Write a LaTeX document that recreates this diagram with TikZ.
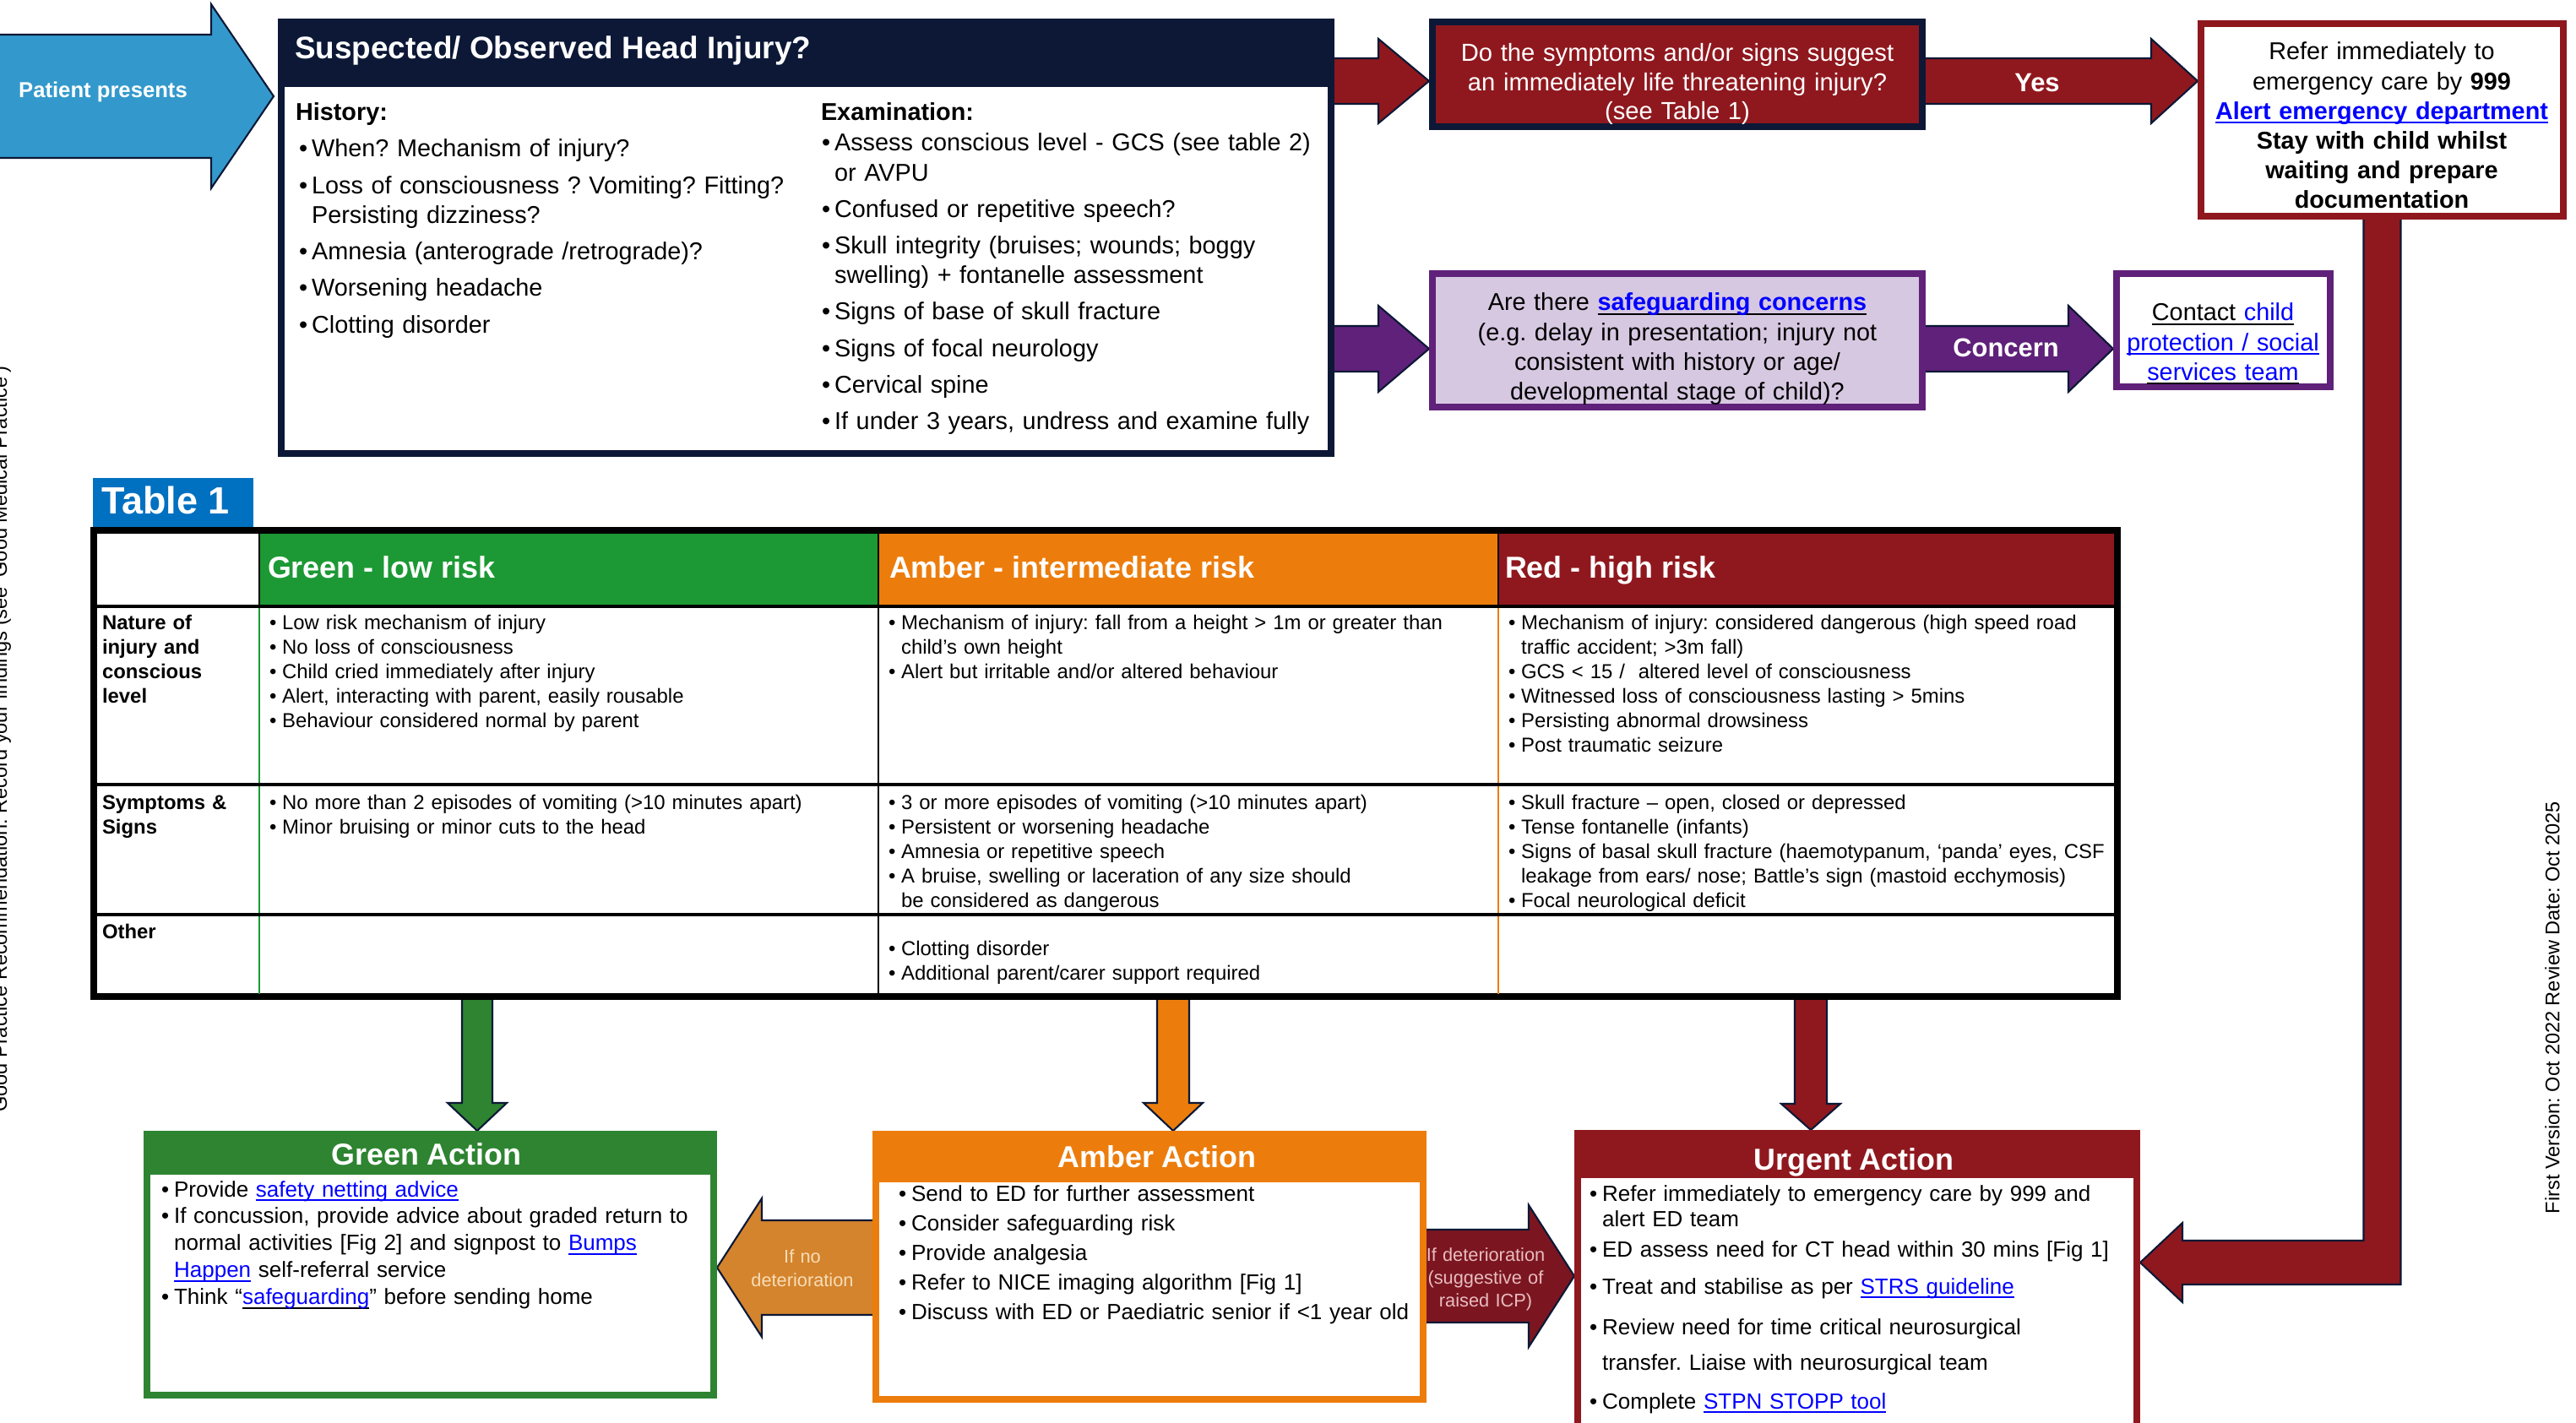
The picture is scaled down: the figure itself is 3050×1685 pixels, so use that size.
\documentclass[tikz,border=0pt]{standalone}
\usepackage{fontspec}
\setmainfont{Liberation Sans}
\usetikzlibrary{calc,backgrounds}
\frenchspacing

\definecolor{navy}{HTML}{0C1836}
\definecolor{skyblue}{HTML}{3399CC}
\definecolor{darkred}{HTML}{8F181E}
\definecolor{plum}{HTML}{60217A}
\definecolor{lavender}{HTML}{D7C8E2}
\definecolor{tabblue}{HTML}{0070C0}
\definecolor{riskgreen}{HTML}{1C9934}
\definecolor{actgreen}{HTML}{2E8431}
\definecolor{amber}{HTML}{EC7D0C}
\definecolor{nodet}{HTML}{D4842C}
\definecolor{det}{HTML}{7B1620}
\definecolor{nodettext}{HTML}{F8DDB8}
\definecolor{dettext}{HTML}{E9BCC0}
\definecolor{link}{HTML}{0000FF}

\newlength{\bw}
\setlength{\bw}{4.3pt}
\newsavebox{\ulbox}
\newcommand{\uln}[1]{\leavevmode\sbox{\ulbox}{#1}\rlap{\rule[-1.3pt]{\wd\ulbox}{0.45pt}}\usebox{\ulbox}}
\newcommand{\itm}[1]{\hangindent=\bw\hangafter=1\makebox[\bw][l]{\textbullet}#1\par}
\newcommand{\lnk}[1]{\textcolor{link}{\uln{#1}}}
\newcommand{\lnkk}[1]{\uln{\textcolor{link}{#1}}}
\newcommand{\fs}[2]{\fontsize{#1}{#2}\selectfont}
\newcommand{\harrow}[6]{\filldraw [#1] ($(#2)+(0,#4)$) -- ($(#3)+({-1*(#6)},#4)$) -- ($(#3)+({-1*(#6)},#5)$) -- (#3) -- ($(#3)+({-1*(#6)},-#5)$) -- ($(#3)+({-1*(#6)},-#4)$) -- ($(#2)+(0,-#4)$) -- cycle;}
\newcommand{\varrow}[6]{\filldraw [#1] ($(#2)+(-#4,0)$) -- ($(#3)+(-#4,#6)$) -- ($(#3)+(-#5,#6)$) -- (#3) -- ($(#3)+(#5,#6)$) -- ($(#3)+(#4,#6)$) -- ($(#2)+(#4,0)$) -- cycle;}

\begin{document}
\begin{tikzpicture}[x=0.1mm, y=0.1mm]
\tikzstyle{every node}+=[inner sep=0pt, outer sep=0pt]
\tikzstyle{box}=[draw, line width=0.8mm, anchor=north west]
\tikzstyle{blockarrow}=[draw=navy, line width=0.6pt, line join=miter]
\tikzstyle{listtext}=[anchor=base west, text width=9cm, align=left]
\tikzstyle{boxtext}=[anchor=base, text width=6cm, align=center]
\tikzstyle{cell}=[listtext, font=\fs{6.8}{8.2}]
\tikzstyle{rowlabel}=[listtext, font=\bfseries\fs{6.8}{8.2}]
\tikzstyle{heading}=[anchor=base west, text=white, font=\bfseries\fs{10.2}{12}]
\tikzstyle{arrowlabel}=[anchor=base, text=white, font=\bfseries\fs{8.8}{10}]
\tikzstyle{acttitle}=[anchor=base, text=white, font=\bfseries\fs{10.2}{12}]
\tikzstyle{acttext}=[listtext, font=\fs{7.4}{8.8}]
\tikzstyle{faint}=[anchor=base, text width=2cm, align=center, font=\fs{6.2}{8}]

\useasboundingbox (0,0) rectangle (3050,-1685);
\clip (0,0) rectangle (3050,-1685);

\node [box, draw=navy, fill=white, minimum width=12.43cm, minimum height=5.11cm] (susp) at (333,-26) {};
\fill [navy] (susp.north west) rectangle ($(susp.north east)+(0,-77)$);
\node [anchor=base west, text=white, font=\bfseries\fs{10.5}{12}] (susptitle) at (349,-70) {Suspected/ Observed Head Injury?};
\node [anchor=base west, font=\bfseries\fs{8.2}{10}] (history) at (350,-143) {History:};
\node [anchor=base west, font=\bfseries\fs{8.2}{10}] (exam) at (972,-143) {Examination:};
\node [listtext, font=\fs{8.2}{10}] (histlist) at (354,-186) {\setlength{\parskip}{2.3pt}%
\itm{When? Mechanism of injury?}
\itm{Loss of consciousness ? Vomiting? Fitting?\newline Persisting dizziness?}
\itm{Amnesia (anterograde /retrograde)?}
\itm{Worsening headache}
\itm{Clotting disorder}};
\node [listtext, font=\fs{8.2}{10}] (examlist) at (973,-179) {\setlength{\parskip}{2.3pt}%
\itm{Assess conscious level - GCS (see table 2)\newline or AVPU}
\itm{Confused or repetitive speech?}
\itm{Skull integrity (bruises; wounds; boggy\newline swelling) + fontanelle assessment}
\itm{Signs of base of skull fracture}
\itm{Signs of focal neurology}
\itm{Cervical spine}
\itm{If under 3 years, undress and examine fully}};

\node [box, draw=navy, fill=darkred, minimum width=5.8cm, minimum height=1.24cm] (risk) at (1696,-26) {};
\node [boxtext, text=white, font=\fs{8.3}{9.7}] (risktext) at (1986,-73) {Do the symptoms and/or signs suggest\\an immediately life threatening injury?\\(see Table 1)};

\node [box, draw=darkred, fill=white, minimum width=4.29cm, minimum height=2.28cm] (refer) at (2606,-28) {};
\node [boxtext, text width=4.2cm, font=\fs{8.2}{10}] (refertext) at (2820,-71) {Refer immediately to\\emergency care by \textbf{999}\\\textbf{\lnk{Alert emergency department}}\\\textbf{Stay with child whilst}\\\textbf{waiting and prepare}\\\textbf{documentation}};

\node [box, draw=plum, fill=lavender, minimum width=5.8cm, minimum height=1.58cm] (safe) at (1696,-324) {};
\node [boxtext, font=\fs{8.2}{10}] (safetext) at (1986,-368) {Are there \textbf{\lnkk{safeguarding concerns}}\\(e.g. delay in presentation; injury not\\consistent with history or age/\\developmental stage of child)?};

\node [box, draw=plum, fill=white, minimum width=2.53cm, minimum height=1.34cm] (contact) at (2506,-324) {};
\node [boxtext, text width=3.2cm, font=\fs{8.2}{10}] (contacttext) at (2632,-380) {\uln{Contact \textcolor{link}{child}}\\\lnk{protection / social}\\\lnkk{services team}};

\node [arrowlabel] (yes) at (2412,-109) {Yes};
\node [arrowlabel] (concern) at (2375,-423) {Concern};
\node [anchor=base, text=white, font=\bfseries\fs{7.3}{9}] (patient) at (122,-116) {Patient presents};

\node [fill=tabblue, anchor=north west, minimum width=1.9cm, minimum height=0.58cm] (tablabel) at (110,-566) {};
\node [anchor=base west, text=white, font=\bfseries\fs{12.8}{14}] (tabletitle) at (120,-609) {Table 1};

\node [box, draw=black, fill=white, minimum width=23.96cm, minimum height=5.52cm] (risktable) at (111,-628) {};
\fill [riskgreen] (307,-632) rectangle (1040,-718);
\fill [amber] (1040,-632) rectangle (1774,-718);
\fill [darkred] (1774,-632) rectangle (2503,-718);
\draw [riskgreen, line width=0.5pt] (307,-718) -- (307,-1177);
\draw [amber, line width=0.5pt] (1774,-718) -- (1774,-1177);
\draw [line width=0.8pt] (1040,-632) -- (1040,-1177) (307,-632) -- (307,-718) (1774,-632) -- (1774,-718);
\foreach \y in {718,929,1083}
  \draw [line width=0.9pt] (114,-\y) -- (2503,-\y);

\node [heading] (greenhead) at (317,-685) {Green - low risk};
\node [heading] (amberhead) at (1053,-685) {Amber - intermediate risk};
\node [heading] (redhead) at (1782,-685) {Red - high risk};

\node [rowlabel] (nature) at (121,-746) {Nature of\\injury and\\conscious\\level};
\node [rowlabel] (symptoms) at (121,-959) {Symptoms \&\\Signs};
\node [rowlabel] (other) at (121,-1112) {Other};

\node [cell] (green1) at (319,-746) {%
\itm{Low risk mechanism of injury}
\itm{No loss of consciousness}
\itm{Child cried immediately after injury}
\itm{Alert, interacting with parent, easily rousable}
\itm{Behaviour considered normal by parent}};
\node [cell] (amber1) at (1052,-746) {%
\itm{Mechanism of injury: fall from a height > 1m or greater than\newline child’s own height}
\itm{Alert but irritable and/or altered behaviour}};
\node [cell] (red1) at (1786,-746) {%
\itm{Mechanism of injury: considered dangerous (high speed road\newline traffic accident; >3m fall)}
\itm{GCS < 15 /\ \ altered level of consciousness}
\itm{Witnessed loss of consciousness lasting > 5mins}
\itm{Persisting abnormal drowsiness}
\itm{Post traumatic seizure}};
\node [cell] (green2) at (319,-959) {%
\itm{No more than 2 episodes of vomiting (>10 minutes apart)}
\itm{Minor bruising or minor cuts to the head}};
\node [cell] (amber2) at (1052,-959) {%
\itm{3 or more episodes of vomiting (>10 minutes apart)}
\itm{Persistent or worsening headache}
\itm{Amnesia or repetitive speech}
\itm{A bruise, swelling or laceration of any size should\newline be considered as dangerous}};
\node [cell] (red2) at (1786,-959) {%
\itm{Skull fracture – open, closed or depressed}
\itm{Tense fontanelle (infants)}
\itm{Signs of basal skull fracture (haemotypanum, ‘panda’ eyes, CSF\newline leakage from ears/ nose; Battle’s sign (mastoid ecchymosis)}
\itm{Focal neurological deficit}};
\node [cell] (amber3) at (1052,-1132) {%
\itm{Clotting disorder}
\itm{Additional parent/carer support required}};

\node [box, draw=actgreen, fill=white, minimum width=6.71cm, minimum height=3.09cm] (gact) at (174,-1343) {};
\fill [actgreen] (gact.north west) rectangle ($(gact.north east)+(0,-48)$);
\node [acttitle] (gacttitle) at (505,-1380) {Green Action};
\node [acttext, font=\fs{7.4}{9.1}] (gactlist) at (191,-1417) {%
\itm{Provide \lnk{safety netting advice}}
\itm{If concussion, provide advice about graded return to\newline normal activities [Fig 2] and signpost to \lnk{Bumps}\newline \lnk{Happen} self-referral service}
\itm{Think “\lnkk{safeguarding}” before sending home}};

\node [box, draw=amber, fill=white, minimum width=6.48cm, minimum height=3.14cm] (aact) at (1037,-1343) {};
\fill [amber] (aact.north west) rectangle ($(aact.north east)+(0,-57)$);
\node [acttitle] (aacttitle) at (1370,-1382) {Amber Action};
\node [acttext, font=\fs{7.4}{10}] (aactlist) at (1064,-1422) {%
\itm{Send to ED for further assessment}
\itm{Consider safeguarding risk}
\itm{Provide analgesia}
\itm{Refer to NICE imaging algorithm [Fig 1]}
\itm{Discuss with ED or Paediatric senior if <1 year old}};

\node [box, draw=darkred, fill=white, minimum width=6.62cm, minimum height=3.78cm] (uact) at (1868,-1342) {};
\fill [darkred] (uact.north west) rectangle ($(uact.north east)+(0,-53)$);
\node [acttitle] (uacttitle) at (2195,-1385) {Urgent Action};
\node [acttext] (urgent1) at (1882,-1422) {\itm{Refer immediately to emergency care by 999 and\newline alert ED team}};
\node [acttext] (urgent2) at (1882,-1488) {\itm{ED assess need for CT head within 30 mins [Fig 1]}};
\node [acttext] (urgent3) at (1882,-1532) {\itm{Treat and stabilise as per \lnk{STRS guideline}}};
\node [acttext, font=\fs{7.4}{12}] (urgent4) at (1882,-1580) {\itm{Review need for time critical neurosurgical\newline transfer. Liaise with neurosurgical team}};
\node [acttext] (urgent5) at (1882,-1668) {\itm{Complete \lnk{STPN STOPP tool}}};

\node [faint, text=nodettext] (nodetlabel) at (950,-1495) {If no\\deterioration};
\node [faint, text=dettext, font=\fs{6.2}{7.7}] (detlabel) at (1759,-1493) {If deterioration\\(suggestive of\\raised ICP)};

\node [rotate=90, font=\fs{6.7}{8}] (version) at (3022,-1193) {First Version: Oct 2022 Review Date: Oct 2025};
\node [rotate=90, anchor=base, font=\fs{6.7}{8}] (practice) at (8,-875) {Good Practice Recommendation: Record your findings (see ‘Good Medical Practice’)};

\begin{pgfonlayer}{background}
\fill [white] (0,0) rectangle (3050,-1685);
\coordinate (ptail) at (-10,-114);
\coordinate (ptip) at ($(susp.west |- ptail)+(-9,0)$);
\harrow{blockarrow, fill=skyblue}{ptail}{ptip}{73}{109}{74}
\coordinate (q0) at (susp.east |- 0,-96);
\coordinate (q1) at ($(risk.west |- q0)+(-4,0)$);
\harrow{blockarrow, fill=darkred}{q0}{q1}{27}{50}{60}
\coordinate (y0) at (risk.east |- q0);
\coordinate (y1) at ($(refer.west |- q0)+(-4,0)$);
\harrow{blockarrow, fill=darkred}{y0}{y1}{27}{50}{55}
\coordinate (s0) at (susp.east |- 0,-413);
\coordinate (s1) at ($(safe.west |- s0)+(-4,0)$);
\harrow{blockarrow, fill=plum}{s0}{s1}{27}{51}{60}
\coordinate (c0) at (safe.east |- s0);
\coordinate (c1) at ($(contact.west |- s0)+(-4,0)$);
\harrow{blockarrow, fill=plum}{c0}{c1}{27}{51}{53}
\coordinate (gd0) at (565,-1180);
\coordinate (gd1) at ($(gd0 |- gact.north)+(0,4)$);
\varrow{blockarrow, fill=actgreen}{gd0}{gd1}{18}{35}{33}
\coordinate (ad0) at (1389,-1180);
\coordinate (ad1) at ($(ad0 |- aact.north)+(0,4)$);
\varrow{blockarrow, fill=amber}{ad0}{ad1}{19}{35}{33}
\coordinate (rd0) at (2144,-1180);
\coordinate (rd1) at ($(rd0 |- uact.north)+(0,4)$);
\varrow{blockarrow, fill=darkred}{rd0}{rd1}{19}{35}{31}
\coordinate (n0) at (aact.west |- 0,-1501);
\coordinate (n1) at ($(gact.east |- n0)+(4,0)$);
\harrow{blockarrow, fill=nodet}{n0}{n1}{56}{82}{-53}
\coordinate (d0) at (aact.east |- 0,-1511);
\coordinate (d1) at ($(uact.west |- d0)+(-4,0)$);
\harrow{blockarrow, fill=det}{d0}{d1}{55}{84}{54}
\coordinate (eltip) at ($(uact.east |- 0,-1495)+(4,0)$);
\filldraw [blockarrow, fill=darkred] ($(refer.south)+(-22,0)$) -- ($(refer.south)+(22,0)$) -- ($(refer.south |- eltip)+(22,-26)$) -- ($(eltip)+(50,-26)$) -- ($(eltip)+(50,-47)$) -- (eltip) -- ($(eltip)+(50,47)$) -- ($(eltip)+(50,26)$) -- ($(refer.south |- eltip)+(-22,26)$) -- cycle;
\end{pgfonlayer}
\end{tikzpicture}
\end{document}
